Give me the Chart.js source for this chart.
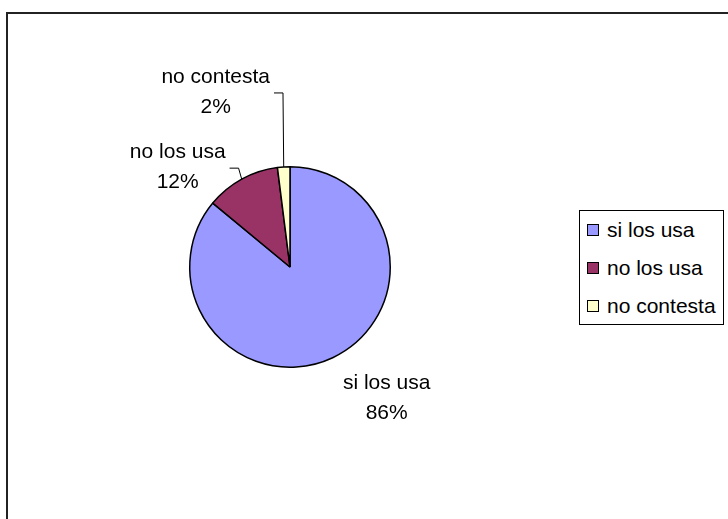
<!DOCTYPE html>
<html>
<head>
<meta charset="utf-8">
<script src="https://cdn.jsdelivr.net/npm/chart.js@4.4.1/dist/chart.umd.min.js"></script>
<style>
    body { margin: 0; background: #fff; }
    #wrap { position: relative; width: 728px; height: 519px; overflow: hidden; font-family: "Liberation Sans", Arial, sans-serif; }
    #frame { position: absolute; left: 6px; top: 12px; width: 800px; height: 600px; border-top: 2px solid #222; border-left: 2px solid #222; }
    canvas { position: absolute; left: 0; top: 0; }
    #legend { position: absolute; left: 579px; top: 210px; width: 145px; height: 115px; border: 1px solid #000; box-sizing: border-box; background: #fff; }
    .item { position: absolute; left: 7px; height: 24px; line-height: 24px; font-size: 21px; white-space: nowrap; }
    .item span.box { display: inline-block; width: 10px; height: 10px; border: 1px solid #000; margin-right: 8px; vertical-align: 1px; }
</style>
</head>
<body>
<div id="wrap">
    <div id="frame"></div>
    <canvas id="pie" width="728" height="519"></canvas>
    <div id="legend"></div>
</div>
<script>
const categories = ['si los usa', 'no los usa', 'no contesta'];
const percentages = [86, 12, 2];
const sliceColors = ['#9999FF', '#993366', '#FFFFCC'];

// label placement relative to the slice's outer midpoint, and which ones get a leader line
const labelShift = [[54, 40], [-64, -12], [-68, -75]];
const labelLeader = [false, true, true];

const sliceLabels = {
    id: 'sliceLabels',
    afterDatasetsDraw(chart) {
        const ctx = chart.ctx;
        const meta = chart.getDatasetMeta(0);
        ctx.save();
        ctx.font = '21px "Liberation Sans", Arial, sans-serif';
        ctx.fillStyle = '#000';
        ctx.strokeStyle = '#000';
        ctx.lineWidth = 1;
        ctx.textAlign = 'center';
        ctx.textBaseline = 'middle';
        meta.data.forEach((arc, i) => {
            const p = arc.getProps(['x', 'y', 'startAngle', 'endAngle', 'outerRadius'], true);
            const mid = (p.startAngle + p.endAngle) / 2;
            const ex = p.x + Math.cos(mid) * p.outerRadius;
            const ey = p.y + Math.sin(mid) * p.outerRadius;
            const cx = ex + labelShift[i][0];
            const cy = ey + labelShift[i][1];
            const lines = [categories[i], percentages[i] + '%'];
            lines.forEach((t, k) => ctx.fillText(t, cx, cy + (k - 0.5) * 30));
            if (labelLeader[i]) {
                const w = Math.max(...lines.map(t => ctx.measureText(t).width));
                const endX = cx + w / 2 + 4;
                ctx.beginPath();
                ctx.moveTo(ex, ey);
                ctx.lineTo(Math.max(endX + 7, Math.min(ex, endX + 9)), cy + 1);
                ctx.lineTo(endX, cy + 1);
                ctx.stroke();
            }
        });
        ctx.restore();
    }
};

new Chart(document.getElementById('pie'), {
    type: 'pie',
    data: {
        labels: categories,
        datasets: [{
            data: percentages,
            backgroundColor: sliceColors,
            borderColor: '#000',
            borderWidth: 1.5
        }]
    },
    options: {
        responsive: false,
        animation: false,
        layout: { padding: { left: 189, right: 337, top: 166, bottom: 151 } },
        plugins: { legend: { display: false }, tooltip: { enabled: false } }
    },
    plugins: [sliceLabels]
});

const legend = document.getElementById('legend');
categories.forEach((name, i) => {
    const row = document.createElement('div');
    row.className = 'item';
    row.style.top = (7 + i * 38) + 'px';
    row.innerHTML = '<span class="box" style="background:' + sliceColors[i] + '"></span>' + name;
    legend.appendChild(row);
});
</script>
</body>
</html>
